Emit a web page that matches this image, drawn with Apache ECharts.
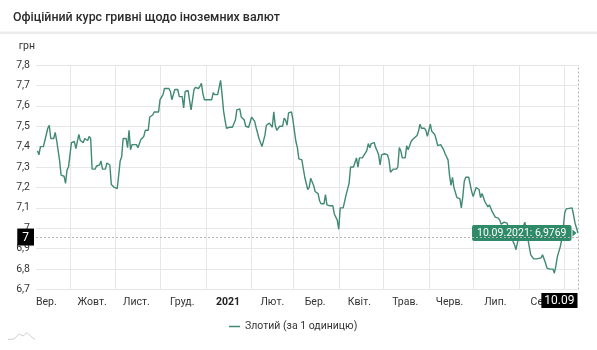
<!DOCTYPE html>
<html>
<head>
<meta charset="utf-8">
<script src="https://cdn.jsdelivr.net/npm/echarts@6/dist/echarts.min.js"></script>
<style>
  html, body { margin: 0; padding: 0; background: #fff; }
  #chart { width: 597px; height: 350px; }
</style>
</head>
<body>
<div id="chart"></div>
<script>
// Daily NBU rate of the Polish zloty (UAH per 1 PLN)
const dates = [
  '2020-09-09','2020-09-10','2020-09-11','2020-09-13','2020-09-14','2020-09-16','2020-09-17','2020-09-18','2020-09-20','2020-09-21',
  '2020-09-22','2020-09-24','2020-09-25','2020-09-27','2020-09-28','2020-09-29','2020-09-30','2020-10-02','2020-10-04','2020-10-05',
  '2020-10-07','2020-10-08','2020-10-10','2020-10-11','2020-10-13','2020-10-14','2020-10-15','2020-10-16','2020-10-18','2020-10-19',
  '2020-10-21','2020-10-22','2020-10-23','2020-10-25','2020-10-26','2020-10-28','2020-10-29','2020-10-31','2020-11-02','2020-11-03',
  '2020-11-04','2020-11-05','2020-11-06','2020-11-08','2020-11-09','2020-11-10','2020-11-11','2020-11-12','2020-11-15','2020-11-16',
  '2020-11-18','2020-11-20','2020-11-21','2020-11-23','2020-11-24','2020-11-26','2020-11-27','2020-11-30','2020-12-01','2020-12-03',
  '2020-12-04','2020-12-07','2020-12-08','2020-12-09','2020-12-11','2020-12-13','2020-12-14','2020-12-16','2020-12-17','2020-12-18',
  '2020-12-20','2020-12-21','2020-12-22','2020-12-24','2020-12-25','2020-12-27','2020-12-28','2020-12-29','2020-12-30','2020-12-31',
  '2021-01-03','2021-01-05','2021-01-06','2021-01-07','2021-01-09','2021-01-10','2021-01-11','2021-01-12','2021-01-13','2021-01-14',
  '2021-01-15','2021-01-17','2021-01-19','2021-01-21','2021-01-22','2021-01-24','2021-01-25','2021-01-27','2021-01-28','2021-01-30',
  '2021-02-01','2021-02-03','2021-02-04','2021-02-06','2021-02-07','2021-02-08','2021-02-10','2021-02-11','2021-02-13','2021-02-14',
  '2021-02-15','2021-02-16','2021-02-17','2021-02-18','2021-02-20','2021-02-22','2021-02-23','2021-02-24','2021-02-25','2021-02-26',
  '2021-02-28','2021-03-01','2021-03-02','2021-03-03','2021-03-04','2021-03-05','2021-03-07','2021-03-08','2021-03-09','2021-03-11',
  '2021-03-12','2021-03-13','2021-03-14','2021-03-15','2021-03-16','2021-03-18','2021-03-19','2021-03-20','2021-03-22','2021-03-23',
  '2021-03-24','2021-03-26','2021-03-28','2021-03-29','2021-03-30','2021-03-31','2021-04-01','2021-04-02','2021-04-03','2021-04-04',
  '2021-04-06','2021-04-07','2021-04-08','2021-04-09','2021-04-11','2021-04-12','2021-04-13','2021-04-14','2021-04-15','2021-04-17',
  '2021-04-18','2021-04-20','2021-04-21','2021-04-22','2021-04-23','2021-04-25','2021-04-26','2021-04-27','2021-04-28','2021-04-29',
  '2021-04-30','2021-05-02','2021-05-04','2021-05-05','2021-05-06','2021-05-08','2021-05-10','2021-05-11','2021-05-12','2021-05-13',
  '2021-05-14','2021-05-16','2021-05-17','2021-05-18','2021-05-20','2021-05-21','2021-05-22','2021-05-24','2021-05-25','2021-05-26',
  '2021-05-27','2021-05-29','2021-05-30','2021-05-31','2021-06-01','2021-06-02','2021-06-03','2021-06-04','2021-06-05','2021-06-06',
  '2021-06-07','2021-06-09','2021-06-10','2021-06-11','2021-06-12','2021-06-13','2021-06-14','2021-06-15','2021-06-16','2021-06-17',
  '2021-06-18','2021-06-20','2021-06-22','2021-06-23','2021-06-24','2021-06-25','2021-06-26','2021-06-28','2021-06-29','2021-06-30',
  '2021-07-01','2021-07-03','2021-07-04','2021-07-05','2021-07-06','2021-07-07','2021-07-08','2021-07-09','2021-07-11','2021-07-12',
  '2021-07-13','2021-07-14','2021-07-16','2021-07-18','2021-07-19','2021-07-20','2021-07-22','2021-07-24','2021-07-26','2021-07-28',
  '2021-07-29','2021-07-30','2021-07-31','2021-08-02','2021-08-03','2021-08-05','2021-08-07','2021-08-09','2021-08-10','2021-08-11',
  '2021-08-13','2021-08-16','2021-08-17','2021-08-19','2021-08-20','2021-08-22','2021-08-24','2021-08-25','2021-08-26','2021-08-27',
  '2021-08-29','2021-08-30','2021-08-31','2021-09-01','2021-09-02','2021-09-03','2021-09-06','2021-09-07','2021-09-08','2021-09-10'
];
const rates = [
  7.38,7.36,7.40,7.40,7.43,7.49,7.505,7.44,7.44,7.47,
  7.43,7.33,7.26,7.255,7.22,7.285,7.30,7.42,7.425,7.39,
  7.46,7.43,7.42,7.44,7.43,7.45,7.44,7.29,7.29,7.305,
  7.31,7.33,7.29,7.29,7.32,7.31,7.215,7.20,7.195,7.26,
  7.33,7.35,7.44,7.44,7.395,7.48,7.385,7.41,7.41,7.395,
  7.435,7.45,7.48,7.48,7.545,7.555,7.57,7.57,7.63,7.655,
  7.685,7.685,7.67,7.63,7.68,7.68,7.645,7.645,7.59,7.67,
  7.675,7.625,7.58,7.68,7.69,7.685,7.695,7.71,7.66,7.63,
  7.63,7.63,7.665,7.655,7.655,7.655,7.725,7.655,7.575,7.53,
  7.49,7.495,7.495,7.53,7.58,7.585,7.545,7.53,7.50,7.495,
  7.545,7.525,7.495,7.44,7.435,7.40,7.455,7.505,7.515,7.51,
  7.495,7.57,7.505,7.48,7.50,7.50,7.54,7.53,7.505,7.565,
  7.57,7.53,7.475,7.425,7.395,7.34,7.335,7.335,7.25,7.19,
  7.20,7.245,7.245,7.21,7.18,7.17,7.135,7.12,7.12,7.165,
  7.115,7.11,7.11,7.07,7.065,7.04,6.995,7.10,7.10,7.10,
  7.165,7.16,7.22,7.30,7.30,7.30,7.345,7.30,7.345,7.345,
  7.35,7.38,7.415,7.395,7.415,7.42,7.395,7.38,7.36,7.31,
  7.36,7.365,7.36,7.335,7.275,7.29,7.29,7.30,7.395,7.38,
  7.345,7.345,7.405,7.385,7.425,7.435,7.435,7.455,7.475,7.51,
  7.49,7.49,7.48,7.45,7.48,7.51,7.475,7.48,7.46,7.435,
  7.405,7.41,7.41,7.385,7.365,7.365,7.335,7.26,7.21,7.25,
  7.20,7.15,7.145,7.10,7.155,7.23,7.25,7.25,7.255,7.18,
  7.155,7.20,7.20,7.19,7.15,7.17,7.165,7.13,7.105,7.115,
  7.12,7.08,7.055,7.05,7.04,7.02,7.03,7.025,6.98,6.935,
  6.92,6.895,6.93,6.975,6.99,7.03,6.95,6.87,6.875,6.85,
  6.85,6.855,6.87,6.83,6.805,6.80,6.80,6.78,6.815,6.86,
  6.91,6.945,7.00,7.075,7.095,7.10,7.10,7.065,7.025,6.9769
];

// Month boundaries (grid lines) and month captions placed mid-month
const monthStarts = ['2020-10-01','2020-11-01','2020-12-01','2021-01-01','2021-02-01','2021-03-01',
                     '2021-04-01','2021-05-01','2021-06-01','2021-07-01','2021-08-01','2021-09-01'];
const monthMids = ['2020-09-15','2020-10-16','2020-11-15','2020-12-16','2021-01-16','2021-02-15',
                   '2021-03-16','2021-04-15','2021-05-16','2021-06-15','2021-07-16','2021-08-16'];
const monthNames = ['Вер.','Жовт.','Лист.','Груд.','2021','Лют.','Бер.','Квіт.','Трав.','Черв.','Лип.','Сер.'];

const axisStart = '2020-09-08';
const yMin = 6.7, yMax = 7.8, yStep = 0.1;
const crosshairRate = 6.957;
const seriesName = 'Злотий (за 1 одиницю)';

const ts = s => { const [y, m, d] = s.split('-').map(Number); return new Date(y, m - 1, d).getTime(); };
const pad = n => String(n).padStart(2, '0');
const fmtRate = v => String(+(+v).toFixed(1)).replace('.', ',');

const lastDate = dates[dates.length - 1];
const lastRate = rates[rates.length - 1];
const lastD = new Date(ts(lastDate));
const shortDate = pad(lastD.getDate()) + '.' + pad(lastD.getMonth() + 1);
const fullDate = shortDate + '.' + lastD.getFullYear();

const midTs = monthMids.map(ts);
const FONT = 'Roboto';
const GREEN = '#2f8a67';

const chart = echarts.init(document.getElementById('chart'));
chart.setOption({
  animation: false,
  backgroundColor: '#fff',
  textStyle: { fontFamily: FONT },
  title: {
    text: 'Офіційний курс гривні щодо іноземних валют',
    left: 8, top: 7,
    textStyle: { fontFamily: FONT, fontSize: 12.4, fontWeight: 500, color: '#2b2b2b' }
  },
  graphic: [
    { type: 'rect', shape: { x: 0, y: 31.5, width: 597, height: 2.5 }, style: { fill: '#ebebeb' }, silent: true },
    { type: 'polyline', shape: { points: [[8, 339.5], [14, 339], [19, 334], [23, 336], [27, 332.5], [31, 336.5], [35, 339.5]] },
      style: { stroke: '#cfcfcf', lineWidth: 1, fill: null }, silent: true }
  ],
  legend: {
    left: 224, top: 316,
    icon: 'rect', itemWidth: 11, itemHeight: 1.5, itemGap: 10,
    textStyle: { fontFamily: FONT, fontSize: 10.5, color: '#333' },
    data: [seriesName]
  },
  grid: { left: 36, right: 19, top: 65, bottom: 60.5 },
  xAxis: {
    type: 'value',
    min: ts(axisStart), max: ts(lastDate),
    axisLine: { show: false },
    axisTick: { show: false, customValues: monthStarts.map(ts) },
    splitLine: { show: true, lineStyle: { color: '#e7e7e7', width: 1 } },
    axisLabel: {
      customValues: midTs,
      margin: 7,
      fontFamily: FONT, fontSize: 10.5, color: '#333',
      formatter: v => {
        const i = midTs.indexOf(v);
        const name = i >= 0 ? monthNames[i] : '';
        return /^\d{4}$/.test(name) ? '{y|' + name + '}' : name;
      },
      rich: { y: { fontFamily: FONT, fontSize: 10.5, fontWeight: 'bold', color: '#222' } }
    },
    axisPointer: {
      show: true, status: 'show', value: ts(lastDate), type: 'line',
      label: { show: false },
      lineStyle: { type: [2, 2], color: '#b5b5b5', width: 1 }
    }
  },
  yAxis: {
    type: 'value',
    min: yMin, max: yMax, interval: yStep,
    name: 'грн',
    nameLocation: 'end',
    nameGap: 13,
    nameTextStyle: { fontFamily: FONT, fontSize: 10.5, color: '#333', align: 'right', padding: [0, 1, 0, 0] },
    axisLine: { show: false },
    axisTick: { show: false },
    splitLine: { lineStyle: { color: '#e7e7e7', width: 1 } },
    axisLabel: { margin: 6, fontFamily: FONT, fontSize: 10.5, color: '#333', formatter: fmtRate },
    axisPointer: {
      show: true, status: 'show', value: crosshairRate, type: 'line',
      lineStyle: { type: [2, 2], color: '#b5b5b5', width: 1 },
      label: {
        show: true, margin: 2,
        formatter: p => fmtRate(p.value),
        backgroundColor: '#000', color: '#fff',
        fontFamily: FONT, fontSize: 12, padding: [3, 5, 2, 5], borderRadius: 0
      }
    }
  },
  series: [{
    name: seriesName,
    type: 'line',
    data: dates.map((d, i) => [ts(d), rates[i]]),
    showSymbol: false,
    symbol: 'none',
    lineStyle: { color: '#3f8a70', width: 1.4 },
    itemStyle: { color: '#3f8a70' },
    markPoint: {
      silent: true,
      symbol: 'circle',
      symbolSize: 1,
      itemStyle: { color: 'rgba(0,0,0,0)' },
      data: [
        {
          coord: [ts(lastDate), lastRate],
          label: {
            show: true, position: 'left', distance: 6,
            formatter: fullDate + ': ' + String(lastRate).replace('.', ','),
            backgroundColor: GREEN, color: '#fff', borderRadius: 2,
            fontFamily: FONT, fontSize: 10.5, padding: [3, 5, 2, 5]
          }
        },
        {
          coord: [ts(lastDate), lastRate],
          symbol: 'triangle', symbolSize: [7, 4], symbolRotate: -90, symbolOffset: [-3.5, 0],
          itemStyle: { color: GREEN },
          label: { show: false }
        },
        {
          coord: [ts(lastDate), yMin],
          label: {
            show: true, position: [0, 4], align: 'right', verticalAlign: 'top',
            formatter: shortDate,
            backgroundColor: '#000', color: '#fff',
            fontFamily: FONT, fontSize: 12, padding: [2, 3, 1, 3]
          }
        }
      ]
    }
  }]
});
</script>
</body>
</html>
